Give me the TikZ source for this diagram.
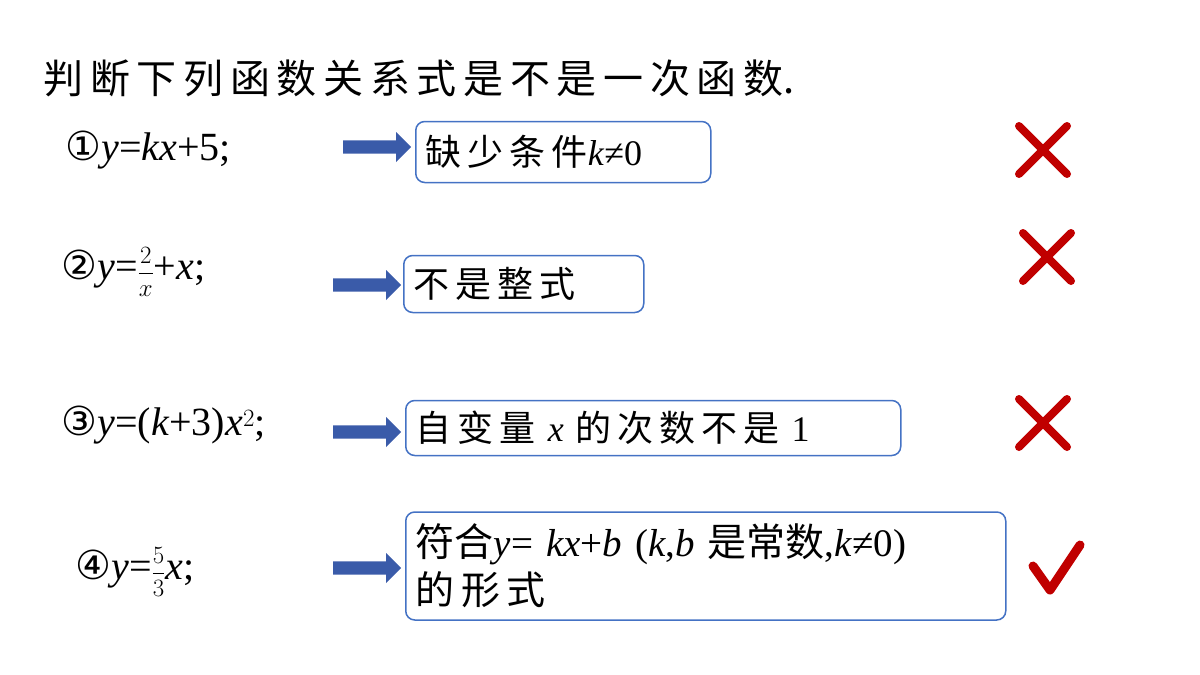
\documentclass[tikz,border=0pt]{standalone}
\usepackage{fontspec}
\setmainfont{Liberation Serif}
\newfontfamily\cjk{Noto Sans CJK SC}
\newfontfamily\sym{DejaVu Sans}
\usetikzlibrary{shapes.arrows}
\definecolor{boxblue}{HTML}{4472C4}
\definecolor{arrowblue}{HTML}{3A5BA9}
\definecolor{markred}{HTML}{C00000}
\tikzset{
  answer/.style={draw=boxblue, line width=1.5pt, rounded corners=9pt, anchor=west,
    inner xsep=10pt, inner ysep=4pt, font=\fontsize{36}{46}\selectfont, align=left},
  formula/.style={anchor=west, font=\fontsize{40}{46}\selectfont},
  pointer/.style={single arrow, fill=arrowblue, draw=none, minimum height=68pt,
    minimum width=30pt, single arrow head extend=4pt, inner sep=3pt, anchor=west},
  cross/.style={markred, line width=8pt, line cap=round}
}
\newcommand{\wrong}[2]{%
  \draw[cross] (#1-24,#2-24) -- (#1+24,#2+24) (#1-24,#2+24) -- (#1+24,#2-24);}
\begin{document}
\begin{tikzpicture}[x=1pt,y=-1pt]
  \useasboundingbox (0,0) rectangle (1200,675);

  % title
  \node[anchor=west, font=\cjk\fontsize{40}{46}\selectfont] (title) at (40,78)
    {判\,断\,下\,列\,函\,数\,关\,系\,式\,是\,不\,是\,一\,次\,函\,数.};

  % row 1
  \node[formula] (f1) at (62,150) {{\sym ①}\textit{y}=\textit{kx}+5;};
  \node[pointer] (p1) at (343,147) {};
  \node[answer, text width=275pt, minimum height=61pt] (a1) at (415,152)
    {{\cjk 缺\,少\,条\,件}\textit{k}≠0};
  \wrong{1043}{150}

  % row 2
  \node[formula] (f2) at (58,272) {{\sym ②}\textit{y}=$\displaystyle\frac{2}{x}$+\textit{x};};
  \node[pointer] (p2) at (333,285) {};
  \node[answer, text width=220pt, minimum height=57pt] (a2) at (403,284)
    {\cjk 不\,是\,整\,式};
  \wrong{1047}{257}

  % row 3
  \node[formula] (f3) at (58,425) {{\sym ③}\textit{y}=(\textit{k}+3)\textit{x}$^2$;};
  \node[pointer] (p3) at (333,432) {};
  \node[answer, text width=475pt, minimum height=55pt] (a3) at (405,428)
    {{\cjk 自\,变\,量} \textit{x} {\cjk 的\,次\,数\,不\,是} 1};
  \wrong{1043}{423}

  % row 4
  \node[formula] (f4) at (72,572) {{\sym ④}\textit{y}=$\displaystyle\frac{5}{3}$\textit{x};};
  \node[pointer] (p4) at (333,568) {};
  \node[answer, text width=580pt, minimum height=108pt, font=\fontsize{39}{48}\selectfont] (a4) at (405,566)
    {{\cjk 符合}\textit{y}= \textit{kx}+\textit{b} (\textit{k},\textit{b} {\cjk 是常数},\textit{k}≠0)\\{\cjk 的\,形\,式}};
  \draw[markred, line width=9pt, line cap=round, line join=round]
    (1033,566) -- (1050,590) -- (1080,545);
\end{tikzpicture}
\end{document}
